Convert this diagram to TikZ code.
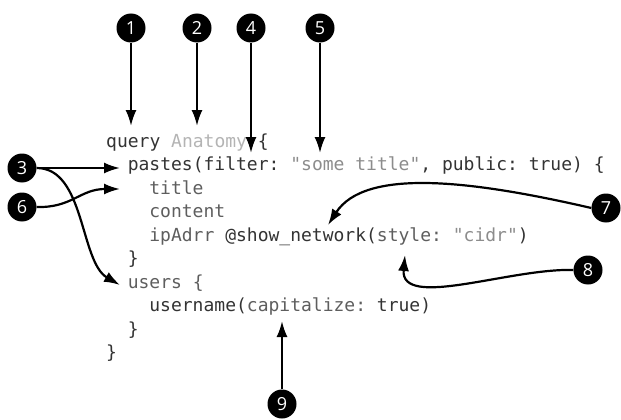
\documentclass[tikz,border=0pt]{standalone}
\usepackage{fontspec}
\setmonofont{DejaVu Sans Mono}
\newfontfamily\numfont{Open Sans}
\usetikzlibrary{arrows.meta}
\definecolor{codedark}{HTML}{333333}
\definecolor{codemid}{HTML}{5E5E5E}
\definecolor{codegray}{HTML}{8C8C8C}
\definecolor{codelight}{HTML}{B4B4B4}
\begin{document}
\begin{tikzpicture}[x=1pt,y=-1pt,
    num/.style={circle,fill=black,minimum size=29pt,inner sep=0pt,text=white,
      font=\numfont\fontsize{18}{18}\selectfont},
    code/.style={anchor=base west,inner sep=0pt,text=codedark,
      font=\ttfamily\fontsize{18}{20}\selectfont},
    arr/.style={line width=2.2pt,-{Latex[length=16pt,width=11pt]}}]
      \useasboundingbox(0,0)rectangle(621,420);
      % the query
      \node[code](q)at(106,147){query \textcolor{codelight}{Anatomy} \{};
      \node[code](p)at(127.6,170.5){pastes(filter: \textcolor{codegray}{"some title"}, public: true) \{};
      \node[code,text=codemid](ti)at(149.2,194){title};
      \node[code,text=codemid](co)at(149.2,217.5){content};
      \node[code](ip)at(149.2,241){\textcolor{codemid}{ipAdrr} @show\_network(\textcolor{codemid}{style:} \textcolor{codegray}{"cidr"})};
      \node[code](b1)at(127.6,264.5){\}};
      \node[code,text=codemid](us)at(127.6,288){users \{};
      \node[code](un)at(149.2,311.5){username(\textcolor{codemid}{capitalize:} true)};
      \node[code](b2)at(127.6,335){\}};
      \node[code](b3)at(106,358.5){\}};
      % callouts
      \foreach \n/\x/\y in{%
        1/131/28, 2/197/28, 4/251/28, 5/320/28, 3/22/168,
        6/22/207, 7/606/208, 8/588/270, 9/282/404}{%
        \node[num](c\n)at(\x,\y){\n};
      }
      \foreach \n/\x/\y in{%
        1/131/126, 2/197/126, 4/251/153, 5/320/153, 3a/120/168,
        3b/120/285, 6/120/189, 7/328/225, 8/405/255, 9/282/321}{%
        \coordinate(t\n)at(\x,\y);
      }
      \draw[arr](c1)--(t1);
      \draw[arr](c2)--(t2);
      \draw[arr](c4)--(t4);
      \draw[arr](c5)--(t5);
      \draw[arr](c3)--(t3a);
      \draw[arr](c3.east).. controls(85,168)and(80,262)..(t3b);
      \draw[arr](c6.east).. controls(72,208)and(80,189)..(t6);
      \draw[arr](c7.west).. controls(470,180)and(365,168)..(t7);
      \draw[arr](c8.west).. controls(510,268)and(400,310)..(t8);
      \draw[arr](c9)--(t9);
    \end{tikzpicture}
\end{document}
